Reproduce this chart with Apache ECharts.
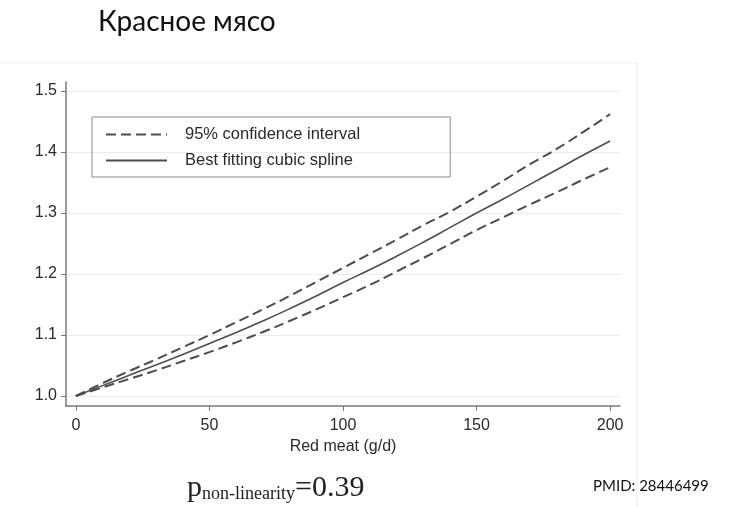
<!DOCTYPE html>
<html>
<head>
<meta charset="utf-8">
<script src="https://cdn.jsdelivr.net/npm/echarts@6/dist/echarts.min.js"></script>
<style>
html, body { margin: 0; padding: 0; background: #fff; }
#chart { width: 730px; height: 507px; }
</style>
</head>
<body>
<div id="chart"></div>
<script>
// red meat intake, g/d
var meat = [0, 10, 20, 30, 40, 50, 60, 70, 80, 90, 100, 110, 120, 130, 140, 150, 160, 170, 180, 190, 200];
// relative risk
var spline  = [1.000, 1.017, 1.034, 1.051, 1.068, 1.086, 1.104, 1.123, 1.143, 1.164, 1.186, 1.207, 1.229, 1.252, 1.276, 1.300, 1.323, 1.347, 1.371, 1.395, 1.418];
var upperCI = [1.000, 1.021, 1.041, 1.060, 1.080, 1.100, 1.121, 1.142, 1.164, 1.187, 1.210, 1.233, 1.256, 1.280, 1.302, 1.327, 1.353, 1.380, 1.405, 1.433, 1.462];
var lowerCI = [1.000, 1.014, 1.028, 1.042, 1.057, 1.072, 1.088, 1.105, 1.123, 1.142, 1.162, 1.182, 1.204, 1.226, 1.249, 1.272, 1.293, 1.314, 1.334, 1.355, 1.375];
var xTicks = [0, 50, 100, 150, 200];
var yTicks = [1.0, 1.1, 1.2, 1.3, 1.4, 1.5];

var ciName = '95% confidence interval';
var fitName = 'Best fitting cubic spline';

function pairs(ys) {
	return meat.map(function (x, i) { return [x, ys[i]]; });
}

var chart = echarts.init(document.getElementById('chart'));

var lineColor = '#4d4d4d';
var axisFont = 'Liberation Sans, Arial, sans-serif';

var option = {
	animation: false,
	grid: { left: 66, right: 110, top: 82, bottom: 101 },
	legend: {
		orient: 'vertical',
		left: 92,
		top: 117,
		data: [ciName, fitName],
		itemWidth: 61,
		itemHeight: 14,
		itemGap: 9,
		padding: [9, 90, 8, 13],
		borderColor: '#8a8a8a',
		borderWidth: 1,
		selectedMode: false,
		itemStyle: { color: 'transparent', borderWidth: 0 },
		textStyle: {
			fontFamily: axisFont,
			fontSize: 16.5,
			color: '#2a2a2a',
			padding: [0, 0, 0, 13]
		}
	},
	xAxis: {
		type: 'value',
		min: -3.7,
		max: 203.7,
		name: 'Red meat (g/d)',
		nameLocation: 'middle',
		nameGap: 31,
		nameTextStyle: { fontFamily: axisFont, fontSize: 16, color: '#2a2a2a' },
		axisLine: { show: true, onZero: false, lineStyle: { color: '#7a7a7a', width: 1.5 } },
		axisTick: { show: true, length: 5, customValues: xTicks, lineStyle: { color: '#7a7a7a' } },
		axisLabel: { customValues: xTicks, margin: 12, fontFamily: axisFont, fontSize: 16, color: '#2a2a2a' },
		splitLine: { show: false }
	},
	yAxis: {
		type: 'value',
		min: 0.9836,
		max: 1.5148,
		axisLine: { show: true, onZero: false, lineStyle: { color: '#7a7a7a', width: 1.5 } },
		axisTick: { show: true, length: 5, customValues: yTicks, lineStyle: { color: '#7a7a7a' } },
		axisLabel: {
			customValues: yTicks,
			margin: 9,
			fontFamily: axisFont,
			fontSize: 16,
			color: '#2a2a2a',
			formatter: function (v) { return v.toFixed(1); }
		},
		splitLine: { show: true, lineStyle: { color: '#ececec', width: 1 } }
	},
	series: [
		{
			name: ciName,
			type: 'line',
			symbol: 'none',
			smooth: true,
			color: lineColor,
			lineStyle: { color: lineColor, width: 2, type: [10, 5] },
			data: pairs(upperCI)
		},
		{
			name: fitName,
			type: 'line',
			symbol: 'none',
			smooth: true,
			color: lineColor,
			lineStyle: { color: lineColor, width: 1.6, type: 'solid' },
			data: pairs(spline)
		},
		{
			name: ciName,
			type: 'line',
			symbol: 'none',
			smooth: true,
			color: lineColor,
			lineStyle: { color: lineColor, width: 2, type: [10, 5] },
			data: pairs(lowerCI)
		}
	],
	graphic: [
		{
			type: 'rect',
			z: -10,
			shape: { x: -2, y: 63, width: 639, height: 460 },
			style: { fill: 'none', stroke: '#efefef', lineWidth: 1 }
		},
		{
			type: 'text',
			x: 98,
			y: 22,
			style: {
				text: 'Красное мясо',
				font: '28px Lato, "Open Sans", sans-serif',
				fill: '#111',
				textAlign: 'left',
				textVerticalAlign: 'middle'
			}
		},
		{
			type: 'text',
			x: 187,
			y: 503,
			style: {
				text: '{p|p}{s|non-linearity}{m|=0.39}',
				textAlign: 'left',
				textVerticalAlign: 'bottom',
				fill: '#222',
				rich: {
					p: { fontFamily: 'Liberation Serif, serif', fontSize: 30, lineHeight: 30, verticalAlign: 'bottom', fill: '#222' },
					s: { fontFamily: 'Liberation Serif, serif', fontSize: 18, lineHeight: 18, verticalAlign: 'bottom', fill: '#222' },
					m: { fontFamily: 'Liberation Serif, serif', fontSize: 30, lineHeight: 30, verticalAlign: 'bottom', fill: '#222' }
				}
			}
		},
		{
			type: 'text',
			x: 593,
			y: 486,
			style: {
				text: 'PMID: 28446499',
				font: '15px Lato, sans-serif',
				fill: '#111',
				textAlign: 'left',
				textVerticalAlign: 'middle'
			}
		}
	]
};

chart.setOption(option);
</script>
</body>
</html>
